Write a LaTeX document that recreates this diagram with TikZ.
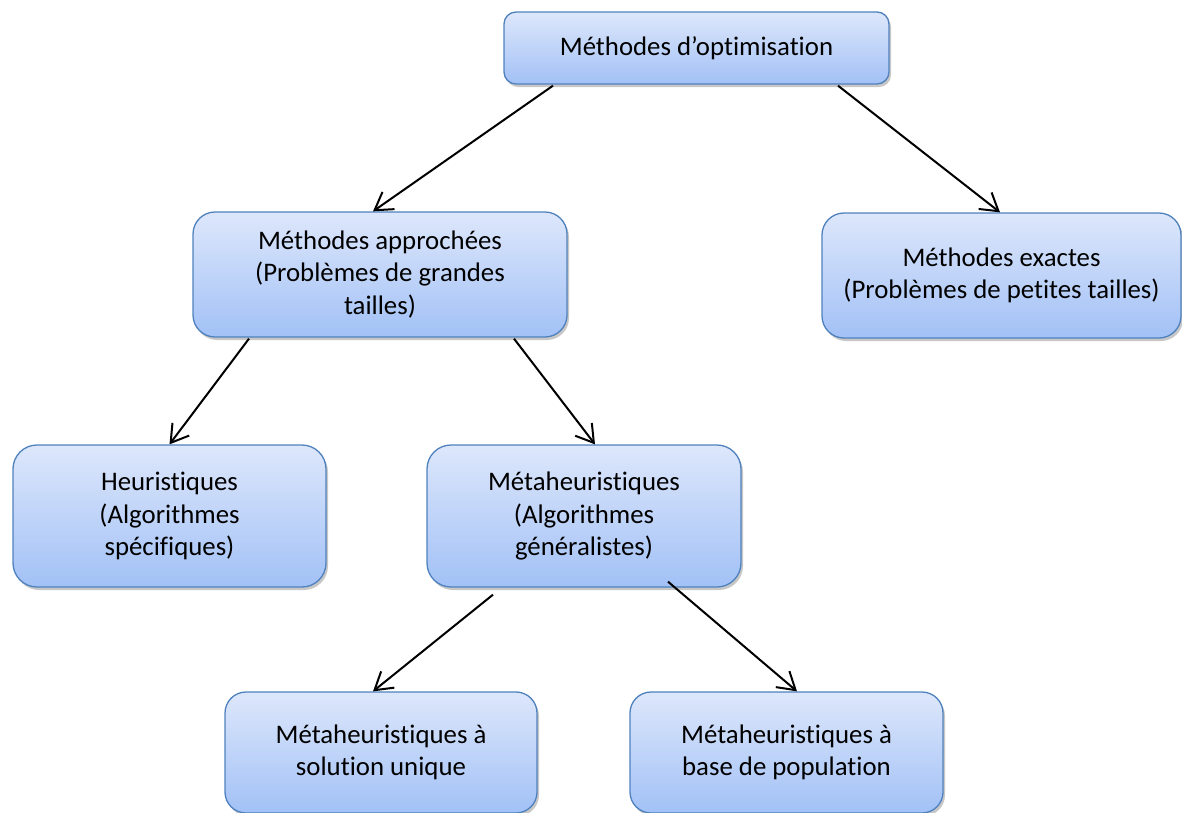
\documentclass[tikz,border=0pt]{standalone}
\usepackage{fontspec}
\setmainfont{Carlito}[Ligatures={NoCommon,NoRare}]
\usetikzlibrary{arrows.meta,shadows,calc}
\definecolor{boxtop}{HTML}{DDE7FB}
\definecolor{boxbot}{HTML}{A2C1F6}
\definecolor{boxline}{HTML}{4F81BD}
\tikzset{
  box/.style={draw=boxline, line width=1.3pt, top color=boxtop, bottom color=boxbot,
    rounded corners=#1, align=center, inner sep=0pt,
    font=\fontsize{26.8}{32.3}\selectfont,
    drop shadow={shadow xshift=2pt, shadow yshift=-3pt, opacity=0.22, fill=black}},
  box/.default=22pt,
  link/.style={-{Straight Barb[length=17pt,width=21pt]}, line width=2pt, black}
}
\begin{document}
\begin{tikzpicture}[x=1pt,y=-1pt]
  \useasboundingbox (0,0) rectangle (1182,812);

  % boxes
  \node[box=12pt, minimum width=385pt, minimum height=72pt] (opt) at (696.5,48)
    {Méthodes d’optimisation};
  \node[box, minimum width=374pt, minimum height=125pt] (appr) at (380,274.5)
    {Méthodes approchées\\(Problèmes de grandes\\tailles)};
  \node[box, minimum width=359pt, minimum height=125pt] (exact) at (1001.5,275.5)
    {Méthodes exactes\\(Problèmes de petites tailles)};
  \node[box=24pt, minimum width=313pt, minimum height=142pt] (heur) at (169.5,516)
    {Heuristiques\\(Algorithmes\\spécifiques)};
  \node[box=24pt, minimum width=314pt, minimum height=142pt] (meta) at (584,516)
    {Métaheuristiques\\(Algorithmes\\généralistes)};
  \node[box=21pt, minimum width=312pt, minimum height=121pt] (sol) at (381,752.5)
    {Métaheuristiques à\\solution unique};
  \node[box=21pt, minimum width=313pt, minimum height=121pt] (pop) at (786.5,752.5)
    {Métaheuristiques à\\base de population};

  % connectors
  \draw[link] ([shift={(-143.5,1)}]opt.south) -- ([shift={(-7,0)}]appr.north);
  \draw[link] ([shift={(141.5,1)}]opt.south) -- ([shift={(-1.5,0)}]exact.north);
  \draw[link] ([shift={(-131,1)}]appr.south) -- (heur.north);
  \draw[link] ([shift={(134,1)}]appr.south) -- ([shift={(11,0)}]meta.north);
  \draw[link] ([shift={(-91,7)}]meta.south) -- ([shift={(-8,0)}]sol.north);
  \draw[link] ([shift={(84,-6)}]meta.south) -- ([shift={(10.5,0)}]pop.north);
\end{tikzpicture}
\end{document}
